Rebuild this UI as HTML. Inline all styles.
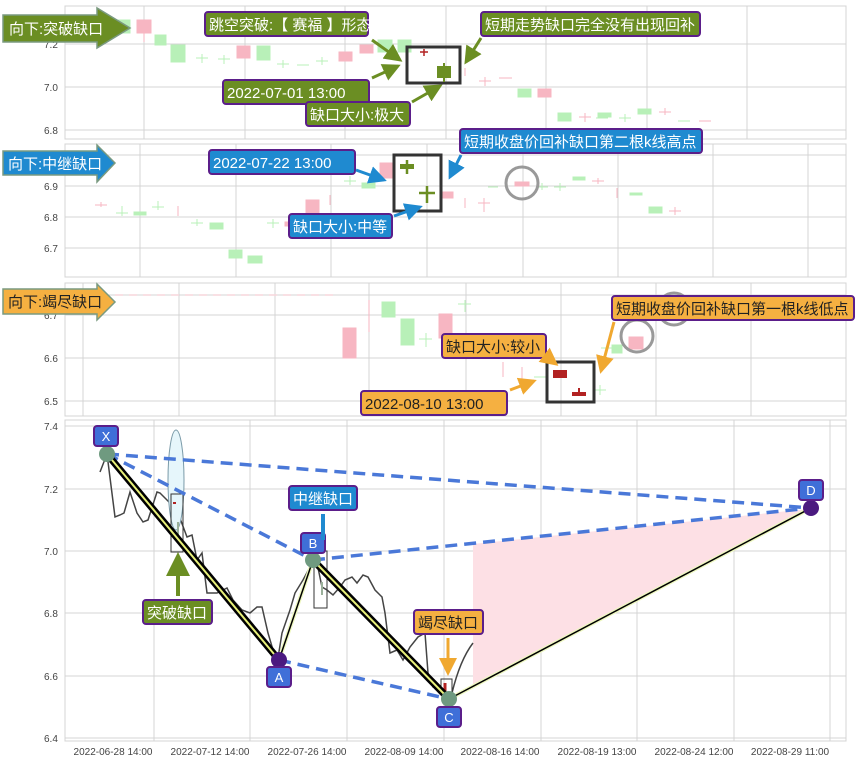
<!DOCTYPE html>
<html><head><meta charset="utf-8"><style>
body{margin:0;background:#fff;}
svg{display:block;font-family:"Liberation Sans","Noto Sans CJK SC",sans-serif;}
.ax{font-size:10px;fill:#444;}
.g{stroke:#d4d4d4;stroke-width:1;fill:none;}
</style></head><body>
<svg width="857" height="764" viewBox="0 0 857 764" xmlns="http://www.w3.org/2000/svg">
<defs>
<marker id="ag" markerWidth="6" markerHeight="6" refX="5" refY="3" orient="auto"><path d="M0,0 L6,3 L0,6z" fill="#6b8e23"/></marker>
<marker id="ab" markerWidth="6" markerHeight="6" refX="5" refY="3" orient="auto"><path d="M0,0 L6,3 L0,6z" fill="#1f8ad0"/></marker>
<marker id="ao" markerWidth="6" markerHeight="6" refX="5" refY="3" orient="auto"><path d="M0,0 L6,3 L0,6z" fill="#f0a830"/></marker>
</defs>
<!-- Panel 1 -->
<rect x="65" y="6" width="781" height="133" class="g"/>
<path class="g" d="M144,6V139M245,6V139M345,6V139M446,6V139M546,6V139M647,6V139M747,6V139M65,44H846M65,87H846M65,130H846"/>
<text class="ax" x="44" y="48">7.2</text><text class="ax" x="44" y="91">7.0</text><text class="ax" x="44" y="134">6.8</text>
<g fill="#b8f0b8" stroke="#b8f0b8">
<rect x="117" y="20" width="13" height="13"/><rect x="155" y="35" width="11" height="10"/><rect x="171" y="45" width="14" height="17"/><rect x="257" y="46" width="13" height="14"/><rect x="378" y="40" width="14" height="12"/><rect x="398" y="40" width="13" height="12"/>
<rect x="518" y="89" width="13" height="8"/><rect x="558" y="113" width="13" height="8"/><rect x="598" y="113" width="13" height="4"/><rect x="638" y="109" width="13" height="5"/>
<path d="M196,58h12M202,54v9M218,59h12M224,55v9M277,64h12M283,60v8M297,65h12M316,61h12M322,57v8M678,121h12M596,118h12M619,118h12M625,114v8"/>
</g>
<g fill="#f7b6c2" stroke="#f7b6c2">
<rect x="137" y="20" width="14" height="13"/><path d="M144,33v9"/><rect x="237" y="46" width="13" height="12"/><rect x="339" y="52" width="13" height="9"/><rect x="360" y="45" width="13" height="8"/>
<rect x="538" y="89" width="13" height="8"/><path d="M465,68v8M479,81h12M485,77v9M499,78h13M579,117h12M585,113v9M659,112h12M665,108v7M699,121h12"/>
</g>
<rect x="407" y="47" width="53" height="36" fill="none" stroke="#333" stroke-width="3"/>
<path d="M420,52h8M424,49v7" stroke="#b22222" stroke-width="1.5"/>
<rect x="437" y="66" width="14" height="12" fill="#6b8e23"/><path d="M444,63v19" stroke="#6b8e23" stroke-width="2"/>
<!-- Panel 2 -->
<rect x="65" y="144" width="781" height="133" class="g"/>
<path class="g" d="M140,144V277M236,144V277M331,144V277M427,144V277M523,144V277M618,144V277M713,144V277M808,144V277M65,155H846M65,186H846M65,217H846M65,248H846"/>
<text class="ax" x="44" y="190">6.9</text><text class="ax" x="44" y="221">6.8</text><text class="ax" x="44" y="252">6.7</text>
<g fill="#b8f0b8" stroke="#b8f0b8">
<rect x="134" y="212" width="12" height="3"/><rect x="210" y="223" width="13" height="6"/><rect x="229" y="250" width="13" height="8"/><rect x="248" y="256" width="14" height="7"/><rect x="362" y="183" width="13" height="5"/><rect x="573" y="177" width="12" height="3"/><rect x="649" y="207" width="13" height="6"/><rect x="630" y="193" width="12" height="2"/>
<path d="M116,213h12M122,206v10M152,207h12M158,201v9M191,223h12M197,219v7M267,223h12M273,219v9M344,181h12M350,176v9M536,187h12M542,183v7M554,187h12M560,183v8M488,187h10"/>
</g>
<g fill="#f7b6c2" stroke="#f7b6c2">
<path d="M95,205h12M101,202v5M178,206v10M330,195v10M465,198v10M478,203h12M484,198v14M592,181h12M598,178v6M617,188v10M669,211h12M675,207v8"/>
<rect x="306" y="200" width="13" height="15"/><rect x="380" y="163" width="13" height="15"/><rect x="442" y="192" width="11" height="6"/><rect x="515" y="182" width="14" height="4"/><rect x="285" y="222" width="8" height="4"/>
</g>
<circle cx="522" cy="183" r="16" fill="none" stroke="#999" stroke-width="3"/>
<rect x="394" y="155" width="47" height="56" fill="none" stroke="#333" stroke-width="3"/>
<rect x="400" y="164" width="14" height="5" fill="#6b8e23"/><path d="M407,160v14M419,193h16M427,186v17" stroke="#6b8e23" stroke-width="2.5"/>
<!-- Panel 3 -->
<rect x="65" y="283" width="781" height="133" class="g"/>
<path class="g" d="M83,283V416M179,283V416M275,283V416M369,283V416M466,283V416M561,283V416M656,283V416M751,283V416M65,295H846M65,315H846M65,358H846M65,401H846"/>
<path d="M115,295H335" stroke="#f7d6dc" stroke-width="1.5" stroke-dasharray="8,6"/>
<text class="ax" x="44" y="319">6.7</text><text class="ax" x="44" y="362">6.6</text><text class="ax" x="44" y="405">6.5</text>
<g fill="#b8f0b8" stroke="#b8f0b8">
<rect x="382" y="302" width="13" height="15"/><rect x="401" y="319" width="13" height="26"/><rect x="612" y="345" width="10" height="8"/><path d="M419,339h13M426,333v14M458,304h13M465,300v12M534,377h12M594,390h12M600,385v10M601,348h12"/>
</g>
<g fill="#f7b6c2" stroke="#f7b6c2">
<rect x="343" y="328" width="13" height="30"/><path d="M369,300v32M503,362v15M522,367v12"/><rect x="439" y="314" width="13" height="24"/><rect x="629" y="337" width="14" height="12"/>
</g>
<circle cx="637" cy="336" r="16" fill="none" stroke="#999" stroke-width="3"/>
<circle cx="674" cy="309" r="16" fill="none" stroke="#999" stroke-width="3"/>
<rect x="547" y="362" width="47" height="40" fill="none" stroke="#333" stroke-width="3"/>
<rect x="553" y="370" width="14" height="8" fill="#b22222"/><path d="M560,366v3"/><rect x="572" y="392" width="14" height="4" fill="#b22222"/><path d="M579,388v5" stroke="#b22222" stroke-width="2"/>
<!-- Panel 4 -->
<rect x="65" y="420" width="781" height="321" class="g"/>
<path class="g" d="M154,420V741M250,420V741M347,420V741M444,420V741M541,420V741M637,420V741M734,420V741M830,420V741M65,426H846M65,489H846M65,551H846M65,613H846M65,676H846M65,738H846"/>
<text class="ax" x="44" y="430">7.4</text><text class="ax" x="44" y="493">7.2</text><text class="ax" x="44" y="555">7.0</text><text class="ax" x="44" y="617">6.8</text><text class="ax" x="44" y="680">6.6</text><text class="ax" x="44" y="742">6.4</text>
<g class="ax" text-anchor="middle">
<text x="113" y="755">2022-06-28 14:00</text><text x="210" y="755">2022-07-12 14:00</text><text x="307" y="755">2022-07-26 14:00</text><text x="404" y="755">2022-08-09 14:00</text><text x="500" y="755">2022-08-16 14:00</text><text x="597" y="755">2022-08-19 13:00</text><text x="694" y="755">2022-08-24 12:00</text><text x="790" y="755">2022-08-29 11:00</text>
</g>
<polygon points="473,544 808,509 473,686" fill="#fde0e5"/>
<polyline fill="none" stroke="#444" stroke-width="1.5" points="100,472 107,454 115,517 120,515 124,513 130,492 137,513 143,522 148,520 157,492 160,493 170,503 175,505 187,537 192,535 197,560 202,553 207,593 217,593 227,588 233,600 242,610 250,613 257,607 262,607 268,633 273,650 278,658 282,633 290,610 295,593 303,580 310,567 317,563 322,587 327,590 333,595 340,587 345,580 352,577 357,583 363,575 368,577 375,590 382,597 385,613 390,653 397,650 403,660 410,647 418,637 425,633 428,673 433,687 440,690"/>
<path d="M452,693 Q460,660 473,643" fill="none" stroke="#444" stroke-width="1.5"/>
<ellipse cx="176" cy="480" rx="8" ry="50" fill="#e6f6fb" stroke="#7a9aa8" stroke-width="1"/>
<rect x="171" y="494" width="12" height="58" fill="none" stroke="#333" stroke-width="1"/>
<path d="M173,503h3" stroke="#b22222" stroke-width="2"/><path d="M178,522v14" stroke="#9ab09a" stroke-width="2"/>
<rect x="314" y="551" width="13" height="57" fill="none" stroke="#333" stroke-width="1"/>
<path d="M322,582v13" stroke="#9ab09a" stroke-width="2"/>
<rect x="441" y="679" width="11" height="16" fill="none" stroke="#333" stroke-width="1"/><path d="M445,683v10" stroke="#b22222" stroke-width="3"/>
<!-- dashed -->
<g stroke="#4a78d8" stroke-width="3.5" stroke-dasharray="12,7" fill="none">
<path d="M107,454 L811,508"/><path d="M107,454 L313,560"/><path d="M313,560 L811,508"/><path d="M279,660 L449,699"/>
</g>
<path d="M279,660 L313,560 M449,699 L811,508" stroke="#eef8c0" stroke-width="4" fill="none"/>
<path d="M279,660 L313,560 M449,699 L811,508" stroke="#000" stroke-width="1.5" fill="none"/>
<path d="M107,454 L279,660 M313,560 L449,699" stroke="#000" stroke-width="7" fill="none"/>
<path d="M107,454 L279,660 M313,560 L449,699" stroke="#e8f07a" stroke-width="2" fill="none"/>
<circle cx="107" cy="454" r="8" fill="#6f9a80"/><circle cx="279" cy="660" r="8" fill="#4b1a80"/><circle cx="313" cy="560" r="8" fill="#6f9a80"/><circle cx="449" cy="699" r="8" fill="#6f9a80"/><circle cx="811" cy="508" r="8" fill="#4b1a80"/>
<g fill="#3f6fd8" stroke="#5b1e8a" stroke-width="2">
<rect x="94" y="426" width="24" height="20" rx="3"/><rect x="267" y="667" width="24" height="20" rx="3"/><rect x="301" y="533" width="24" height="20" rx="3"/><rect x="437" y="707" width="24" height="20" rx="3"/><rect x="799" y="480" width="24" height="20" rx="3"/>
</g>
<g fill="#fff" font-size="13" text-anchor="middle">
<text x="106" y="441">X</text><text x="279" y="682">A</text><text x="313" y="548">B</text><text x="449" y="722">C</text><text x="811" y="495">D</text>
</g>
<path d="M178,596V556" stroke="#6b8e23" stroke-width="4" marker-end="url(#ag)"/>
<path d="M323,514V540" stroke="#1f8ad0" stroke-width="4"/>
<path d="M448,638V673" stroke="#f0a830" stroke-width="3" marker-end="url(#ao)"/>
<!-- labels -->
<g stroke="#5b1e8a" stroke-width="2">
<rect x="143" y="600" width="69" height="24" rx="3" fill="#6b8e23"/>
<rect x="289" y="486" width="68" height="24" rx="3" fill="#1f8ad0"/>
<rect x="414" y="610" width="69" height="24" rx="3" fill="#f5b041"/>
<rect x="205" y="12" width="163" height="24" rx="3" fill="#6b8e23"/>
<rect x="223" y="80" width="146" height="24" rx="3" fill="#6b8e23"/>
<rect x="306" y="102" width="104" height="24" rx="3" fill="#6b8e23"/>
<rect x="481" y="12" width="219" height="24" rx="3" fill="#6b8e23"/>
<rect x="209" y="150" width="146" height="24" rx="3" fill="#1f8ad0"/>
<rect x="289" y="214" width="103" height="24" rx="3" fill="#1f8ad0"/>
<rect x="460" y="129" width="242" height="24" rx="3" fill="#1f8ad0"/>
<rect x="442" y="334" width="104" height="24" rx="3" fill="#f5b041"/>
<rect x="361" y="391" width="146" height="24" rx="3" fill="#f5b041"/>
<rect x="612" y="296" width="242" height="24" rx="3" fill="#f5b041"/>
</g>
<g font-size="15" fill="#fff">
<text x="147" y="618">突破缺口</text><text x="293" y="504">中继缺口</text><text x="418" y="628" fill="#222">竭尽缺口</text>
<text x="209" y="30">跳空突破:【 赛福 】形态</text>
<text x="227" y="98">2022-07-01 13:00</text>
<text x="310" y="120">缺口大小:极大</text>
<text x="485" y="30">短期走势缺口完全没有出现回补</text>
<text x="213" y="168">2022-07-22 13:00</text>
<text x="293" y="232">缺口大小:中等</text>
<text x="464" y="147">短期收盘价回补缺口第二根k线高点</text>
<text x="446" y="352" fill="#222">缺口大小:较小</text>
<text x="365" y="409" fill="#222">2022-08-10 13:00</text>
<text x="616" y="314" fill="#222">短期收盘价回补缺口第一根k线低点</text>
</g>
<g stroke-width="3" fill="none">
<path d="M372,40 L400,60" stroke="#6b8e23" marker-end="url(#ag)"/>
<path d="M372,78 L398,66" stroke="#6b8e23" marker-end="url(#ag)"/>
<path d="M412,102 L440,86" stroke="#6b8e23" marker-end="url(#ag)"/>
<path d="M481,38 L466,62" stroke="#6b8e23" marker-end="url(#ag)"/>
<path d="M356,170 L384,180" stroke="#1f8ad0" marker-end="url(#ab)"/>
<path d="M394,216 L420,207" stroke="#1f8ad0" marker-end="url(#ab)"/>
<path d="M461,155 L450,177" stroke="#1f8ad0" marker-end="url(#ab)"/>
<path d="M547,357 L556,364" stroke="#f0a830" marker-end="url(#ao)"/>
<path d="M510,390 L534,381" stroke="#f0a830" marker-end="url(#ao)"/>
<path d="M614,322 L601,371" stroke="#f0a830" marker-end="url(#ao)"/>
</g>
<!-- side arrows -->
<polygon points="3,15 97,15 97,8 130,28 97,48 97,42 3,42" fill="#6b8e23" stroke="#7a9a80" stroke-width="1.5"/>
<text x="9" y="34" font-size="15" fill="#fff">向下:突破缺口</text>
<polygon points="3,151 97,151 97,145 115,163 97,182 97,175 3,175" fill="#1f8ad0" stroke="#7a9a80" stroke-width="1.5"/>
<text x="8" y="169" font-size="15" fill="#fff">向下:中继缺口</text>
<polygon points="3,289 97,289 97,284 115,302 97,320 97,314 3,314" fill="#f5b041" stroke="#7a9a80" stroke-width="1.5"/>
<text x="8" y="307" font-size="15" fill="#222">向下:竭尽缺口</text>
</svg>
</body></html>
